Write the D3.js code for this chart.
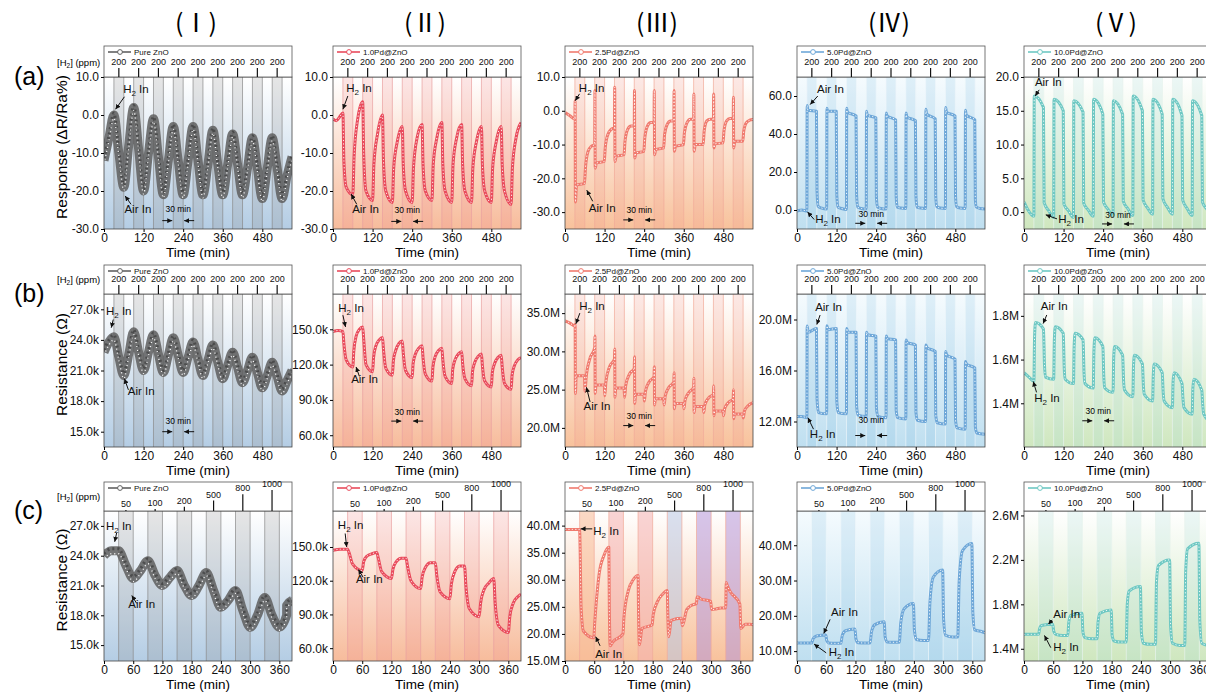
<!DOCTYPE html>
<meta charset="utf-8">
<head>
<script src="https://d3js.org/d3.v7.min.js"></script>
<style>
  body { margin: 0; background: #fff; }
  text { font-family: Arial, "Liberation Sans", sans-serif; }
</style>
</head>
<body>
<div id="chart"></div>
<script>
// ---------------- categories / protocol ----------------
var samples = ["Pure ZnO", "1.0Pd@ZnO", "2.5Pd@ZnO", "5.0Pd@ZnO", "10.0Pd@ZnO"];
var romans = ["(\u2160)", "(\u2161)", "(\u2162)", "(\u2163)", "(\u2164)"];
var rowLetters = ["(a)", "(b)", "(c)"];
var h2OnAB = [30, 90, 150, 210, 270, 330, 390, 450, 510];   // H2 on, 30 min each
var h2OnC = [30, 90, 150, 210, 270, 330];
var ppmAB = [200, 200, 200, 200, 200, 200, 200, 200, 200];
var ppmC = [50, 100, 200, 500, 800, 1000];
var timeTicksAB = [0, 120, 240, 360, 480];
var timeTicksC = [0, 60, 120, 180, 240, 300, 360];

// ---------------- series (values read at minutes after each H2-on) ----------------
// row (a): response (%)
var aI_off = [0, 15, 30, 45];
var aI_lead = [[0, -12], [15, -6]];
var aI_cyc = [[0, -10, -19, -8], [2, -9, -20, -10], [-1, -11, -21, -12], [-3, -12, -21, -12], [-3, -12, -21, -13],
              [-4, -13, -21, -13], [-5, -13, -21, -14], [-6, -14, -22, -14], [-6, -14, -22, -16]];
var aI_tail = [[570, -11]];

var aII_off = [0, 3, 10, 30, 34, 45];
var aII_lead = [[0, -1], [10, -1.5], [20, -0.5]];
var aII_cyc = [[0.5, -12, -19, -21, -11, -1], [3.5, -10, -20, -22.5, -13, -5], [0, -12, -20, -23, -14, -7],
               [-3, -13, -20, -23, -14, -6], [-2.5, -13, -20, -22.5, -13, -6], [-2, -13, -20, -23, -13, -6],
               [-2.5, -13, -20, -23, -14, -7], [-3, -13, -20, -23, -14, -7], [-3, -13, -20, -23.5, -14, -6]];
var aII_tail = [[570, -2]];

var aIII_off = [0, 0.7, 1.5, 5, 29, 32, 40, 50];
var aIII_lead = [[0, -0.5], [15, -1.5]];
var aIII_cyc = [[-2.5, 3, -27, -22, -21.5, -17, -12, -10.5], [-10, 6, -17, -15.5, -15, -11, -7, -5.5],
                [-5, 7, -15, -13.5, -13, -9, -5.5, -4.5], [-4.5, 6, -14, -12.5, -12, -8, -4.5, -3.5],
                [-3.5, 6, -13, -11.5, -11, -7, -4, -3], [-3, 6, -12, -10.5, -10, -6.5, -3.5, -2.5],
                [-2.5, 5, -12, -10, -10, -6, -3, -2.5], [-2.5, 5, -11, -9.8, -9.5, -6, -3, -2.3],
                [-2.3, 4, -11, -9, -9, -6, -3.5, -2.8]];
var aIII_tail = [[570, -2.6]];

var aIV_off = [0, 0.7, 3, 29, 30.7, 34, 45];
var aIV_lead = [[0, -0.5], [15, 0]];
var aIV_cyc = [[-0.5, 55, 52.5, 52, 10, 2, 1], [0.5, 53.5, 52, 52, 8, 1.5, 0.8], [0.3, 53.5, 51.5, 49.5, 8, 1.5, 0.8],
               [0.5, 52, 50, 48.5, 7, 1.5, 0.8], [0.5, 51, 49.5, 47.5, 7, 1.5, 1], [0.8, 51, 49, 47, 7, 1.5, 1],
               [0.8, 53, 50.5, 48, 7, 1.8, 1], [0.8, 54, 51.5, 49.5, 7, 1.8, 1], [0.8, 52.5, 50, 47.5, 5.5, 1.5, 0.8]];
var aIV_tail = [[570, 0.5]];

var aV_off = [0, 1, 29, 31, 45];
var aV_lead = [[0, 1.5], [10, 0.5]];
var aV_cyc = [[-0.6, 17.2, 15.5, 1.4, 0.2], [-0.8, 16.7, 15.0, 1.2, 0.2], [-0.8, 16.5, 14.8, 1.3, 0.3],
              [-0.6, 16.7, 14.5, 1.5, 0.4], [-0.5, 16.5, 14.5, 1.6, 0.5], [-0.5, 17.2, 15.0, 1.8, 0.6],
              [-0.3, 16.7, 14.5, 2, 0.7], [-0.3, 16.7, 14.3, 1.8, 0.5], [-0.5, 16.5, 14.3, 1.5, 0.4]];
var aV_tail = [[570, -0.5]];

// row (b): resistance
var bI_off = [0, 15, 30, 45];
var bI_lead = [[0, 22.8], [15, 23.8]];
var bI_cyc = [[24.3, 22.3, 20.5, 22.6], [24.8, 22.8, 21, 22.8], [24.5, 22.6, 20.8, 22.5], [24.2, 22.5, 20.8, 22.3],
              [23.8, 22.1, 20.5, 22], [23.5, 21.8, 20.2, 21.5], [22.8, 21.3, 19.8, 21], [22.3, 20.8, 19.3, 20.5],
              [21.8, 20.4, 19, 20]];
var bI_tail = [[570, 21]];

var bII_off = [0, 3, 10, 30, 33, 40, 50];
var bII_lead = [[0, 148], [15, 149]];
var bII_cyc = [[148, 138, 124, 118, 131, 144, 150], [152, 142, 120, 114, 126, 136, 141], [143, 133, 117, 111, 123, 132, 138],
               [140, 130, 115, 109, 121, 129, 134], [136, 126, 112, 106, 118, 127, 132], [134, 124, 110, 104, 116, 124, 129],
               [131, 121, 108, 102, 114, 122, 127], [129, 119, 106, 101, 113, 121, 126], [128, 118, 104, 99, 111, 119, 124]];
var bII_tail = [[570, 126]];

var bIII_off = [0, 0.7, 1.5, 4, 29, 30.7, 34, 45];
var bIII_lead = [[0, 34], [15, 33.7]];
var bIII_cyc = [[33.3, 33.5, 24.5, 26.8, 26.8, 24.8, 26.5, 29], [30.5, 32, 24.5, 25.6, 25.6, 24.2, 26, 28],
                [29, 30.3, 24, 25.2, 25.2, 24, 25.5, 27], [27.8, 29.3, 23.2, 24.4, 24.4, 23.5, 24.8, 26],
                [26.7, 28, 23, 23.8, 23.8, 23, 24.2, 25.3], [26, 27.2, 22.5, 23.2, 23.2, 22.5, 23.6, 24.6],
                [25.3, 26.5, 22, 22.8, 22.8, 22, 23, 23.9], [24.4, 25.5, 21.6, 22.2, 22.2, 21.6, 22.5, 23.3],
                [23.8, 25, 21.2, 21.8, 21.8, 21.3, 22.2, 22.9]];
var bIII_tail = [[570, 23.3]];

var bIV_off = [0, 0.7, 4, 29, 30.7, 35];
var bIV_lead = [[0, 12.4], [15, 12.4]];
var bIV_cyc = [[12.3, 19.5, 19.0, 19.3, 13.8, 12.7], [12.6, 19.5, 19.2, 19.3, 13.6, 12.7], [12.6, 19.3, 19.0, 19.0, 13.2, 12.5],
               [12.4, 19.0, 18.8, 18.7, 13.1, 12.4], [12.3, 18.7, 18.5, 18.4, 12.9, 12.3], [12.2, 18.4, 18.2, 18.0, 12.7, 12.1],
               [12.0, 18.0, 17.8, 17.5, 12.5, 11.9], [11.8, 17.5, 17.2, 16.9, 12.1, 11.5], [11.4, 16.7, 16.5, 16.2, 11.6, 11.1]];
var bIV_tail = [[570, 11.0]];

var bV_off = [0, 2, 5, 29, 32, 35];
var bV_lead = [[0, 1.54], [15, 1.52]];
var bV_cyc = [[1.50, 1.70, 1.77, 1.74, 1.58, 1.52], [1.51, 1.69, 1.75, 1.72, 1.56, 1.51], [1.49, 1.66, 1.72, 1.69, 1.54, 1.49],
              [1.47, 1.64, 1.70, 1.66, 1.52, 1.47], [1.45, 1.61, 1.66, 1.62, 1.50, 1.46], [1.43, 1.57, 1.62, 1.58, 1.48, 1.44],
              [1.41, 1.53, 1.58, 1.54, 1.45, 1.41], [1.38, 1.50, 1.54, 1.49, 1.42, 1.38], [1.35, 1.47, 1.51, 1.46, 1.39, 1.35]];
var bV_tail = [[570, 1.31]];

// row (c): resistance, increasing concentration
var cI_off = [0, 15, 30, 45];
var cI_lead = [[0, 24], [15, 24.5]];
var cI_cyc = [[24.5, 23, 21.7, 22.5], [23.5, 22, 21, 21.8], [22.5, 21, 20, 21], [22.3, 20.5, 18.8, 19.5],
              [20.5, 18.5, 16.8, 18], [19.8, 18, 16.8, 18]];
var cI_tail = [[375, 19], [386, 19.5]];

var cII_off = [0, 3, 10, 30, 33, 40, 50];
var cII_lead = [[0, 147], [15, 148]];
var cII_cyc = [[148, 145, 135, 129, 137, 142, 144], [145, 140, 128, 122, 130, 137, 140], [140, 133, 120, 113, 123, 132, 136],
               [136, 125, 110, 104, 117, 128, 133], [133, 115, 95, 88, 100, 112, 118], [122, 100, 80, 74, 88, 100, 106]];
var cII_tail = [[386, 108]];

var cIII_off = [0, 1, 3, 8, 29, 31, 40, 50];
var cIII_lead = [[0, 39.3], [15, 39.3]];
var cIII_cyc = [[39.3, 36, 25, 20.5, 19.3, 22, 31, 34.5], [36, 25, 17.8, 18.5, 20, 23, 28, 30],
                [30.8, 24, 18, 21, 21.7, 23.5, 26, 27.3], [28, 24, 19.5, 22.5, 22.9, 21.5, 24.5, 25.3],
                [25.6, 26.8, 26.8, 26.5, 26, 24.5, 24.6, 24.8], [24.8, 29.5, 29, 28, 25.5, 21, 21.8, 21.8]];
var cIII_tail = [[386, 21.7]];

var cIV_off = [0, 3, 10, 29, 31, 35, 50];
var cIV_lead = [[0, 12.3], [15, 12.3]];
var cIV_cyc = [[12.3, 13.5, 14.3, 14.6, 13, 12.3, 12.2], [12.2, 14.5, 15.8, 16.3, 13.5, 12.4, 12.3],
               [12.3, 15.5, 17.5, 18.3, 14, 12.6, 12.5], [12.5, 18, 22, 23.5, 16, 13.3, 13],
               [13, 24, 31, 33, 19, 14.5, 14], [14, 30, 38.5, 40.5, 21, 16, 15.5]];
var cIV_tail = [[386, 15.2]];

var cV_off = [0, 2, 6, 29, 31, 35, 50];
var cV_lead = [[0, 1.53], [15, 1.53]];
var cV_cyc = [[1.53, 1.58, 1.61, 1.62, 1.56, 1.53, 1.52], [1.52, 1.64, 1.70, 1.72, 1.55, 1.50, 1.49],
              [1.49, 1.64, 1.72, 1.75, 1.52, 1.47, 1.46], [1.46, 1.80, 1.92, 1.96, 1.55, 1.45, 1.44],
              [1.44, 2.00, 2.15, 2.20, 1.60, 1.45, 1.43], [1.43, 2.10, 2.30, 2.35, 1.65, 1.45, 1.43]];
var cV_tail = [[386, 1.43]];

// annotations: [label, textT, textV, arrowFromT, arrowFromV, arrowToT, arrowToV]
var aI_notes = [["H2", 58, 5.8, 62, 4.8, 35, 1.5], ["Air", 62, -25.8, 82, -23.5, 64, -21.3]];
var aII_notes = [["H2", 40, 6, 45, 5, 30, 1.5], ["Air", 58, -25.8, 72, -23.5, 55, -20.8]];
var aIII_notes = [["H2", 42, 5.7, 44, 5, 31, 3], ["Air", 72, -29.9, 84, -26.8, 66, -23.5]];
var aIV_notes = [["Air", 61, 61.4, 63, 60, 40, 55.5], ["H2", 55, -7, 52, -5, 32, -1]];
var aV_notes = [["Air", 33, 18.6, 46, 18.1, 34, 17.2], ["H2", 104, -1.6, 100, -1, 66, -0.4]];
var bI_notes = [["H2", 6, 26.4, 28, 26.0, 22, 25.2], ["Air", 72, 18.6, 74, 19.1, 62, 20.2]];
var bII_notes = [["H2", 16, 165, 30, 162, 38, 152], ["Air", 55, 104, 80, 110, 70, 118]];
var bIII_notes = [["H2", 43, 35.4, 45, 35, 33, 33.6], ["Air", 56, 22.3, 76, 23.4, 65, 25.3]];
var bIV_notes = [["Air", 55, 20.7, 70, 20.35, 60, 19.6], ["H2", 39, 10.7, 50, 11.4, 33, 12.3]];
var bV_notes = [["Air", 51, 1.827, 69, 1.804, 58, 1.765], ["H2", 31, 1.407, 38, 1.45, 28, 1.5]];
var cI_notes = [["H2", 4, 26.6, 26, 26.3, 22, 25.4], ["Air", 50, 18.7, 67, 19.2, 57, 20.0]];
var cII_notes = [["H2", 10, 166, 25, 162, 28, 150], ["Air", 47, 118, 62, 123, 52, 130]];
var cIII_notes = [["H2", 58, 38.2, 56, 39.4, 32, 39.4], ["Air", 62, 15.6, 72, 17.8, 63, 19.5]];
var cIV_notes = [["Air", 70, 20, 68, 19, 55, 15], ["H2", 65, 8.5, 60, 9.5, 35, 12]];
var cV_notes = [["Air", 60, 1.68, 58, 1.66, 50, 1.62], ["H2", 60, 1.38, 55, 1.41, 42, 1.52]];

// "30 min" marker: [t1, t2, textV, arrowV]
var aI_span = [210, 240, -25.6, -27.8], aII_span = [210, 240, -25.8, -28], aIII_span = [210, 240, -30.3, -32.3];
var aIV_span = [210, 240, -3.8, -7], aV_span = [270, 300, -0.9, -1.75];
var bI_span = [210, 240, 15.8, 15.0], bII_span = [210, 240, 77, 72], bIII_span = [210, 240, 21.2, 20.3];
var bIV_span = [210, 240, 11.9, 10.9], bV_span = [210, 240, 1.353, 1.32];

// ---------------- layout / style ----------------
var colLeft = [104, 333, 565, 797, 1024], plotW = 188;
var rowTop = [77, 294, 511], rowBot = [229, 447, 661], boxTop = [46, 265, 482];
var lineColor = ["#616161", "#e94b5c", "#f07a6e", "#6ea7d8", "#6ec8c3"];
var bgBottom = ["#b4cde4", "#f7bc9c", "#f8c29c", "#bfdff0", "#cfe7bf"];
var bgTop = ["#ffffff", "#ffffff", "#ffffff", "#f5fbfe", "#ffffff"];
var bandFill = ["#8f8f8f", "#f08c8c", "#f39a8c", "#8fc3e3", "#a8dcd6"];
var bandLine = ["#8a8a8a", "#eaa0a0", "#f0aa9a", "#eef7fb", "#e8f4ee"];
var cIII_bands = ["#f7b995", "#f4b0b0", "#f4b0b0", "#b9c6e2", "#b596d8", "#b596d8"];

function fmtPlain(d) { return d.toFixed(1); }
function fmtK(d) { return d.toFixed(1) + "k"; }
function fmtM(d) { return d.toFixed(1) + "M"; }

var panels = [
  {row: 0, col: 0, off: aI_off, lead: aI_lead, cyc: aI_cyc, tail: aI_tail, dom: [-30, 10], ticks: [-30, -20, -10, 0, 10], fmt: fmtPlain, notes: aI_notes, span: aI_span},
  {row: 0, col: 1, off: aII_off, lead: aII_lead, cyc: aII_cyc, tail: aII_tail, dom: [-30, 10], ticks: [-30, -20, -10, 0, 10], fmt: fmtPlain, notes: aII_notes, span: aII_span},
  {row: 0, col: 2, off: aIII_off, lead: aIII_lead, cyc: aIII_cyc, tail: aIII_tail, dom: [-35, 10], ticks: [-30, -20, -10, 0, 10], fmt: fmtPlain, notes: aIII_notes, span: aIII_span},
  {row: 0, col: 3, off: aIV_off, lead: aIV_lead, cyc: aIV_cyc, tail: aIV_tail, dom: [-10, 70], ticks: [0, 20, 40, 60], fmt: fmtPlain, notes: aIV_notes, span: aIV_span},
  {row: 0, col: 4, off: aV_off, lead: aV_lead, cyc: aV_cyc, tail: aV_tail, dom: [-2.5, 20], ticks: [0, 5, 10, 15, 20], fmt: fmtPlain, notes: aV_notes, span: aV_span},
  {row: 1, col: 0, off: bI_off, lead: bI_lead, cyc: bI_cyc, tail: bI_tail, dom: [13.5, 28.5], ticks: [15, 18, 21, 24, 27], fmt: fmtK, notes: bI_notes, span: bI_span},
  {row: 1, col: 1, off: bII_off, lead: bII_lead, cyc: bII_cyc, tail: bII_tail, dom: [50, 180], ticks: [60, 90, 120, 150], fmt: fmtK, notes: bII_notes, span: bII_span},
  {row: 1, col: 2, off: bIII_off, lead: bIII_lead, cyc: bIII_cyc, tail: bIII_tail, dom: [17.5, 37.5], ticks: [20, 25, 30, 35], fmt: fmtM, notes: bIII_notes, span: bIII_span},
  {row: 1, col: 3, off: bIV_off, lead: bIV_lead, cyc: bIV_cyc, tail: bIV_tail, dom: [10, 22], ticks: [12, 16, 20], fmt: fmtM, notes: bIV_notes, span: bIV_span},
  {row: 1, col: 4, off: bV_off, lead: bV_lead, cyc: bV_cyc, tail: bV_tail, dom: [1.2, 1.9], ticks: [1.4, 1.6, 1.8], fmt: fmtM, notes: bV_notes, span: bV_span},
  {row: 2, col: 0, off: cI_off, lead: cI_lead, cyc: cI_cyc, tail: cI_tail, dom: [13.4, 28.5], ticks: [15, 18, 21, 24, 27], fmt: fmtK, notes: cI_notes},
  {row: 2, col: 1, off: cII_off, lead: cII_lead, cyc: cII_cyc, tail: cII_tail, dom: [48.6, 182], ticks: [60, 90, 120, 150], fmt: fmtK, notes: cII_notes},
  {row: 2, col: 2, off: cIII_off, lead: cIII_lead, cyc: cIII_cyc, tail: cIII_tail, dom: [15, 42.7], ticks: [15, 20, 25, 30, 35, 40], fmt: fmtM, notes: cIII_notes, bands: cIII_bands},
  {row: 2, col: 3, off: cIV_off, lead: cIV_lead, cyc: cIV_cyc, tail: cIV_tail, dom: [7.2, 49.7], ticks: [10, 20, 30, 40], fmt: fmtM, notes: cIV_notes},
  {row: 2, col: 4, off: cV_off, lead: cV_lead, cyc: cV_cyc, tail: cV_tail, dom: [1.29, 2.64], ticks: [1.4, 1.8, 2.2, 2.6], fmt: fmtM, notes: cV_notes}
];

// ---------------- svg ----------------
var svg = d3.select("#chart").append("svg")
  .attr("width", 1206).attr("height", 695);

var defs = svg.append("defs");
defs.append("marker").attr("id", "arr")
  .attr("viewBox", "0 0 10 10").attr("refX", 10).attr("refY", 5)
  .attr("markerWidth", 5).attr("markerHeight", 5).attr("markerUnits", "userSpaceOnUse")
  .attr("orient", "auto")
  .append("path").attr("d", "M0,0L10,5L0,10z").attr("fill", "#111");

lineColor.forEach(function(c, i) {
  var gr = defs.append("linearGradient").attr("id", "bg" + i)
    .attr("x1", 0).attr("y1", 0).attr("x2", 0).attr("y2", 1);
  gr.append("stop").attr("offset", "0%").attr("stop-color", bgTop[i]);
  gr.append("stop").attr("offset", "100%").attr("stop-color", bgBottom[i]);
});

// column headings and row letters
romans.forEach(function(r, i) {
  svg.append("text").attr("x", colLeft[i] + plotW / 2 - 2).attr("y", 32)
    .attr("text-anchor", "middle").attr("font-size", 25)
    .style("font-family", "'Noto Sans CJK SC', 'DejaVu Sans', sans-serif")
    .text(r);
});
rowLetters.forEach(function(r, i) {
  svg.append("text").attr("x", 14).attr("y", rowTop[i] + 8)
    .attr("font-size", 25).text(r);
});
var yTitles = ["Response (\u0394R/Ra%)", "Resistance (\u03a9)", "Resistance (\u03a9)"];
yTitles.forEach(function(t, i) {
  var cy = (rowTop[i] + rowBot[i]) / 2 - 6;
  svg.append("text").attr("transform", "translate(67," + cy + ") rotate(-90)")
    .attr("text-anchor", "middle").attr("font-size", 15.5).text(t);
  var ht = svg.append("text").attr("x", 57).attr("y", rowTop[i] - 11).attr("font-size", 9.5);
  ht.append("tspan").text("[H");
  ht.append("tspan").attr("font-size", 6.5).attr("dy", 2).text("2");
  ht.append("tspan").attr("dy", -2).text("] (ppm)");
});

function noteText(g, label, x, y) {
  var t = g.append("text").attr("x", x).attr("y", y).attr("font-size", 11.5).attr("fill", "#111");
  if (label === "H2") {
    t.append("tspan").text("H");
    t.append("tspan").attr("font-size", 8).attr("dy", 3).text("2");
    t.append("tspan").attr("dy", -3).text(" In");
  } else {
    t.text("Air In");
  }
}

panels.forEach(function(p, idx) {
  var ab = p.row < 2;
  var starts = ab ? h2OnAB : h2OnC;
  var ppm = ab ? ppmAB : ppmC;
  var h = rowBot[p.row] - rowTop[p.row];
  var g = svg.append("g").attr("transform", "translate(" + colLeft[p.col] + "," + rowTop[p.row] + ")");

  var x = d3.scaleLinear().domain(ab ? [0, 570] : [0, 386]).range([0, plotW]);
  var y = d3.scaleLinear().domain(p.dom).range([h, 0]);

  // series points
  var pts = p.lead.slice();
  p.cyc.forEach(function(vals, k) {
    vals.forEach(function(v, i) { pts.push([starts[k] + p.off[i], v]); });
  });
  pts = pts.concat(p.tail);

  defs.append("clipPath").attr("id", "clip" + idx)
    .append("rect").attr("width", plotW).attr("height", h);

  // background
  g.append("rect").attr("width", plotW).attr("height", h).attr("fill", "url(#bg" + p.col + ")");

  // exposure bands
  g.selectAll(".band").data(starts).enter().append("rect")
    .attr("x", function(d) { return x(d); })
    .attr("width", function(d) { return x(d + 30) - x(d); })
    .attr("y", 0).attr("height", h)
    .attr("fill", function(d, i) { return p.bands ? p.bands[i] : bandFill[p.col]; })
    .attr("opacity", p.bands ? 0.55 : 0.22);
  var edges = [];
  starts.forEach(function(s) { edges.push(s, s + 30); });
  g.selectAll(".edge").data(edges).enter().append("line")
    .attr("x1", function(d) { return x(d); }).attr("x2", function(d) { return x(d); })
    .attr("y1", 0).attr("y2", h)
    .attr("stroke", bandLine[p.col]).attr("stroke-width", 0.7);

  // series
  var line = d3.line()
    .x(function(d) { return x(d[0]); })
    .y(function(d) { return y(d[1]); })
    .curve(d3.curveMonotoneX);
  var sg = g.append("g").attr("clip-path", "url(#clip" + idx + ")");
  if (p.col === 0) {
    sg.append("path").datum(pts).attr("d", line).attr("fill", "none")
      .attr("stroke", "#5e5e5e").attr("stroke-width", 9).attr("stroke-linejoin", "round").attr("opacity", 0.85);
    sg.append("path").datum(pts).attr("d", line).attr("fill", "none")
      .attr("stroke", "#333").attr("stroke-width", 3).attr("stroke-dasharray", "2 3").attr("opacity", 0.6)
      .attr("transform", "translate(0,-2)");
    sg.append("path").datum(pts).attr("d", line).attr("fill", "none")
      .attr("stroke", "#fff").attr("stroke-width", 1.3).attr("stroke-dasharray", "1 3")
      .attr("transform", "translate(0,3)");
  } else {
    sg.append("path").datum(pts).attr("d", line).attr("fill", "none")
      .attr("stroke", lineColor[p.col]).attr("stroke-width", 3).attr("stroke-linejoin", "round");
    sg.append("path").datum(pts).attr("d", line).attr("fill", "none")
      .attr("stroke", "#fff").attr("stroke-width", 1).attr("stroke-dasharray", "1.2 2.2").attr("opacity", 0.9);
  }

  // frame
  g.append("rect").attr("width", plotW).attr("height", h)
    .attr("fill", "none").attr("stroke", "#444").attr("stroke-width", 0.8);

  // axes
  var xa = g.append("g").attr("transform", "translate(0," + h + ")")
    .call(d3.axisBottom(x).tickValues(ab ? timeTicksAB : timeTicksC).tickSize(3).tickPadding(1));
  xa.select(".domain").remove();
  xa.selectAll("text").attr("font-size", 12).attr("fill", "#111");
  g.append("text").attr("x", plotW / 2).attr("y", h + 28)
    .attr("text-anchor", "middle").attr("font-size", 13.5).text("Time (min)");

  var ya = g.append("g")
    .call(d3.axisLeft(y).tickValues(p.ticks).tickFormat(p.fmt).tickSize(3).tickPadding(2));
  ya.select(".domain").remove();
  ya.selectAll("text").attr("font-size", 12).attr("fill", "#111");

  // top box with concentration ticks
  var bh = rowTop[p.row] - boxTop[p.row];
  g.append("rect").attr("y", -bh).attr("width", plotW).attr("height", bh)
    .attr("fill", "#fff").attr("stroke", "#555").attr("stroke-width", 0.8);
  var tickLen = ab ? d3.scaleLinear().domain([0, 200]).range([0, 9])
                   : d3.scaleLinear().domain([0, 1000]).range([0, 21]);
  g.selectAll(".ct").data(starts).enter().append("line")
    .attr("x1", function(d) { return x(d + 15); }).attr("x2", function(d) { return x(d + 15); })
    .attr("y1", 0).attr("y2", function(d, i) { return -tickLen(ppm[i]); })
    .attr("stroke", "#111").attr("stroke-width", 1.2);
  g.selectAll(".cl").data(starts).enter().append("text")
    .attr("x", function(d) { return x(d + 15); })
    .attr("y", function(d, i) { return -tickLen(ppm[i]) - 3; })
    .attr("text-anchor", "middle").attr("font-size", 9).attr("fill", "#111")
    .text(function(d, i) { return ppm[i]; });

  // legend
  var ly = -bh + 6;
  g.append("line").attr("x1", 4).attr("x2", 27).attr("y1", ly).attr("y2", ly)
    .attr("stroke", lineColor[p.col]).attr("stroke-width", 1.6);
  g.append("circle").attr("cx", 16).attr("cy", ly).attr("r", 2.4)
    .attr("fill", "#fff").attr("stroke", lineColor[p.col]).attr("stroke-width", 1);
  g.append("text").attr("x", 30).attr("y", ly + 3).attr("font-size", 8).attr("fill", "#111").text(samples[p.col]);

  // annotations
  p.notes.forEach(function(n) {
    noteText(g, n[0], x(n[1]), y(n[2]));
    g.append("line").attr("x1", x(n[3])).attr("y1", y(n[4])).attr("x2", x(n[5])).attr("y2", y(n[6]))
      .attr("stroke", "#111").attr("stroke-width", 1).attr("marker-end", "url(#arr)");
  });
  if (p.span) {
    var s = p.span;
    g.append("text").attr("x", x((s[0] + s[1]) / 2)).attr("y", y(s[2]))
      .attr("text-anchor", "middle").attr("font-size", 8.5).text("30 min");
    g.append("line").attr("x1", x(s[0]) - 11).attr("x2", x(s[0]) - 1).attr("y1", y(s[3])).attr("y2", y(s[3]))
      .attr("stroke", "#111").attr("marker-end", "url(#arr)");
    g.append("line").attr("x1", x(s[1]) + 11).attr("x2", x(s[1]) + 1).attr("y1", y(s[3])).attr("y2", y(s[3]))
      .attr("stroke", "#111").attr("marker-end", "url(#arr)");
  }
});
</script>
</body>
